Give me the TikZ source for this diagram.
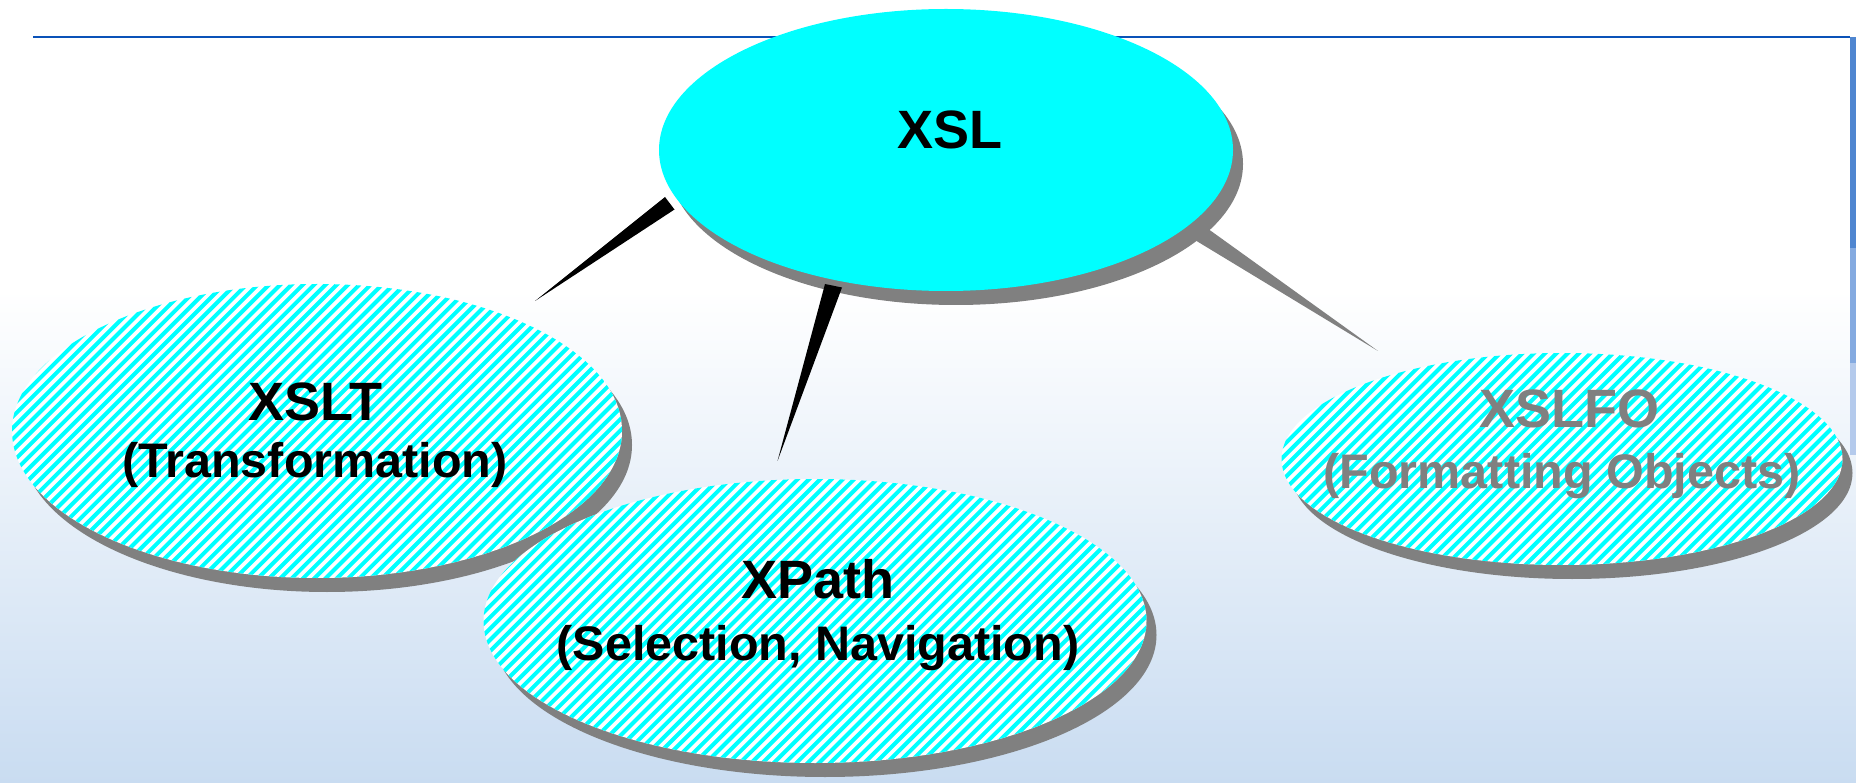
\documentclass[tikz,border=0pt]{standalone}
\usepackage{fontspec}
\setmainfont{Liberation Sans}
\usetikzlibrary{shapes.geometric,shadows}
\definecolor{topline}{HTML}{0A52B8}
\definecolor{barA}{HTML}{4F86D0}
\definecolor{barB}{HTML}{84AAE0}
\definecolor{barC}{HTML}{B4CAEC}
\definecolor{bgbot}{HTML}{C9DCF1}
\definecolor{shadowgray}{HTML}{808080}
\definecolor{aqua}{RGB}{0,255,255}
\tikzset{
  bubble/.style={ellipse, inner sep=0pt, draw=none,
    drop shadow={shadow xshift=10pt, shadow yshift=-14pt, fill=shadowgray, opacity=1}},
  solidbubble/.style={bubble, fill=aqua},
  stripebubble/.style={bubble, fill=white},
  stripeline/.style={draw=aqua, line width=4pt},
  titletext/.style={anchor=base, inner sep=0pt, font=\fontsize{54}{62}\selectfont\bfseries},
  subtext/.style={anchor=base, inner sep=0pt, font=\fontsize{48.5}{56}\selectfont\bfseries},
  wedgeblack/.style={fill=black},
  wedgegray/.style={fill=shadowgray}
}
% diagonal stripes clipped to an ellipse: centre x, centre y, x radius, y radius
\newcommand{\stripefill}[4]{%
  \begin{scope}
    \clip (#1,#2) ellipse [x radius=#3, y radius=#4];
    \pgfmathtruncatemacro{\nlo}{(#1+#2-#3-#4)/11.3-2}
    \pgfmathtruncatemacro{\nhi}{(#1+#2+#3+#4)/11.3+2}
    \foreach \n in {\nlo,...,\nhi}{
      \pgfmathsetmacro{\kk}{\n*11.3}
      \draw[stripeline] (\kk-#2-#4-10, #2+#4+10) -- (\kk-#2+#4+10, #2-#4-10);
    }
  \end{scope}}
\begin{document}
\begin{tikzpicture}[x=1pt,y=-1pt]
\useasboundingbox (0,0) rectangle (1856,783);
% background
\fill[white] (0,0) rectangle (1856,783);
\shade[top color=white, bottom color=bgbot] (0,290) rectangle (1856,783);
% header rule and side bar
\draw[topline, line width=2pt] (33,37) -- (1850,37);
\fill[barA] (1850,37) rectangle (1856,248);
\fill[barB] (1850,248) rectangle (1856,363);
\fill[barC] (1850,363) rectangle (1856,455);

% gray wedge (behind XSL)
\coordinate (wr1) at (1185,234);
\coordinate (wr2) at (1195,219.5);
\coordinate (wrt) at (1378,351);
\fill[wedgegray] (wr1) -- (wr2) -- (wrt) -- cycle;

% XSL
\node[solidbubble, minimum width=574pt, minimum height=282pt] (xsl) at (946,150) {};

% black wedges
\coordinate (wl1) at (665,197);
\coordinate (wl2) at (674.5,209.5);
\coordinate (wlt) at (535,301);
\fill[wedgeblack] (wl1) -- (wl2) -- (wlt) -- cycle;
\coordinate (wm1) at (825,284);
\coordinate (wm2) at (842,287.5);
\coordinate (wmt) at (777.5,461);
\fill[wedgeblack] (wm1) -- (wm2) -- (wmt) -- cycle;

% child ellipses
\node[stripebubble, minimum width=610pt, minimum height=294pt] (xslt) at (317,431) {};
\stripefill{317}{431}{305}{147}
\node[stripebubble, minimum width=663pt, minimum height=284pt] (xpath) at (815,621) {};
\stripefill{815}{621}{331.5}{142}
\node[stripebubble, minimum width=561pt, minimum height=212pt] (xslfo) at (1562,459) {};
\stripefill{1562}{459}{280.5}{106}

% texts
\node[titletext] (xslT) at (950,149) {XSL};
\node[titletext] (xsltT) at (315,421) {XSLT};
\node[subtext] (xsltS) at (315,477) {(Transformation)};
\node[titletext] (xpathT) at (818,598) {XPath};
\node[subtext] (xpathS) at (818,660) {(Selection, Navigation)};
\node[titletext, text=shadowgray] (xslfoT) at (1569,428) {XSLFO};
\node[subtext, text=shadowgray] (xslfoS) at (1562,488) {(Formatting Objects)};
\end{tikzpicture}
\end{document}
